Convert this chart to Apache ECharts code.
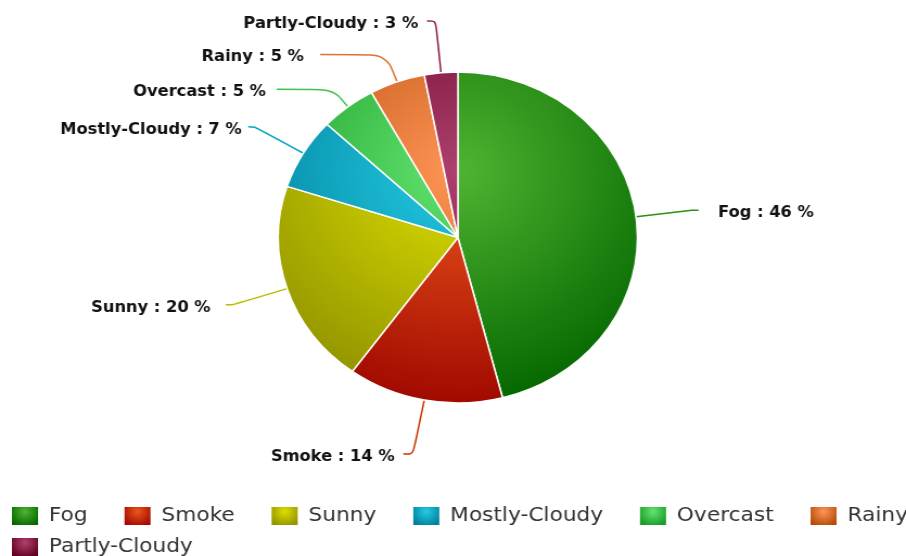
<!DOCTYPE html>
<html>
<head>
<meta charset="utf-8">
<script src="https://cdn.jsdelivr.net/npm/echarts@6/dist/echarts.min.js"></script>
<style>
html,body{margin:0;padding:0;background:#fff;overflow:hidden;width:906px;height:556px;}
#chart{width:835px;height:556px;transform:scaleX(1.08503);transform-origin:0 0;}
</style>
</head>
<body>
<div id="chart"></div>
<script>
// ---- data ----
const categories = ['Fog', 'Smoke', 'Sunny', 'Mostly-Cloudy', 'Overcast', 'Rainy', 'Partly-Cloudy'];
const values = [46, 14, 20, 7, 5, 5, 3];

// ---- styles ----
const baseColors = ['#50B432', '#ED561B', '#DDDF00', '#24CBE5', '#64E572', '#FF9655', '#AE416E'];
const lineLen = [52, 55, 52, 52, 22, 29, 52];
const lineLen2 = [6, 9, 7, 6, 52, 61, 8];
const labelDist = [18, 8, 14, 6, 10, 15, 8];

function shade(hex, d) {
  const n = parseInt(hex.slice(1), 16);
  const c = [(n >> 16) & 255, (n >> 8) & 255, n & 255].map(v => Math.max(0, Math.min(255, v + d)));
  return 'rgb(' + c.join(',') + ')';
}

const CX = 422, CY = 237.5, R = 165.5;

function sliceGradient(col) {
  return {
    type: 'radial', x: CX, y: CY - 0.4 * R, r: 1.4 * R, global: true,
    colorStops: [{ offset: 0, color: col }, { offset: 1, color: shade(col, -76) }]
  };
}
function iconGradient(col) {
  return {
    type: 'radial', x: 0.5, y: 0.3, r: 0.7,
    colorStops: [{ offset: 0, color: col }, { offset: 1, color: shade(col, -76) }]
  };
}

const pieData = categories.map((name, i) => ({
  name: name,
  value: values[i],
  itemStyle: { color: sliceGradient(baseColors[i]) },
  label: { distanceToLabelLine: labelDist[i] },
  labelLine: {
    length: lineLen[i], length2: lineLen2[i], smooth: 0.3,
    lineStyle: { color: shade(baseColors[i], -35), width: 1.5 }
  }
}));

const legendItems = categories.map((name, i) => ({
  name: name,
  itemStyle: { color: iconGradient(baseColors[i]) }
}));

const legendCommon = {
  orient: 'horizontal',
  left: 9,
  width: 900,
  padding: 0,
  itemWidth: 26,
  itemHeight: 20,
  itemGap: 32,
  icon: 'rect',
  selectedMode: false,
  textStyle: { fontFamily: 'DejaVu Sans', fontSize: 20, color: '#333', padding: [0, 0, 0, 4] }
};

const chart = echarts.init(document.getElementById('chart'), null, { renderer: 'canvas' });
chart.setOption({
  animation: false,
  backgroundColor: '#fff',
  legend: [
    Object.assign({}, legendCommon, { top: 505, data: legendItems.slice(0, 6) }),
    Object.assign({}, legendCommon, { top: 536, data: legendItems.slice(6) })
  ],
  series: [{
    type: 'pie',
    center: [CX, CY],
    radius: R,
    startAngle: 90,
    clockwise: true,
    avoidLabelOverlap: false,
    silent: true,
    itemStyle: { borderColor: '#fff', borderWidth: 1.5 },
    label: {
      show: true,
      position: 'outside',
      fontFamily: 'DejaVu Sans',
      fontWeight: 'bold',
      fontSize: 15,
      color: '#111',
      formatter: p => p.name + ' : ' + Math.round(p.percent) + ' %'
    },
    labelLayout: () => ({ dy: 3 }),
    data: pieData
  }]
});
</script>
</body>
</html>
